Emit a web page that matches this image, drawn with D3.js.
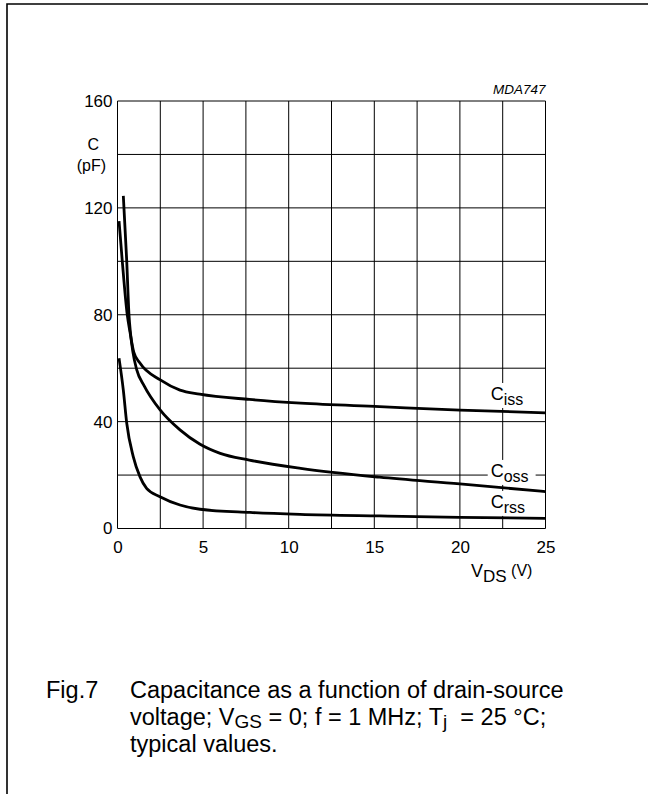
<!DOCTYPE html>
<html><head><meta charset="utf-8">
<script src="https://cdn.jsdelivr.net/npm/d3@7/dist/d3.min.js"></script>
<style>
body{margin:0;background:#fff}
svg{display:block;font-family:"Liberation Sans",Arial,Helvetica,sans-serif}
text{white-space:pre}
</style>
</head><body>
<svg id="chart" width="648" height="794"></svg>
<script>
// ---- data ----
const vdsCiss = [0.09, 0.28, 0.57, 0.73, 0.95, 1.3, 2.5, 3.65, 4.8, 7.7, 10.7, 15.3, 20, 25];
const ciss    = [115, 100, 80, 73.5, 66, 62, 55.6, 51.8, 50.3, 48.3, 46.9, 45.6, 44.3, 43.3];
const vdsCoss = [0.34, 0.54, 0.67, 0.76, 0.9, 1.12, 1.55, 2.5, 3.65, 4.8, 6.0, 7.7, 10.7, 15.3, 20, 25];
const coss    = [124.5, 100, 80, 73, 66, 59.5, 53.5, 44.3, 36.9, 31.6, 28.1, 25.6, 22.5, 19.2, 16.7, 13.8];
const vdsCrss = [0.09, 0.34, 0.54, 0.92, 1.31, 1.7, 2.48, 3.65, 4.82, 7.74, 10.66, 15.3, 20, 25];
const crss    = [63.7, 51.8, 39.4, 26.9, 19.4, 15, 11.9, 8.8, 7.2, 6.0, 5.3, 4.7, 4.2, 3.8];
const xTickValues = [0, 5, 10, 15, 20, 25];
const yTickValues = [0, 40, 80, 120, 160];
const xGridValues = [0, 2.5, 5, 7.5, 10, 12.5, 15, 17.5, 20, 22.5, 25];
const yGridValues = [0, 20, 40, 60, 80, 100, 120, 140, 160];
const seriesNames = ["iss", "oss", "rss"];

// ---- layout ----
const svg = d3.select("#chart");
const L = 117.5, R = 545.5, T = 101, B = 528.5;
const x = d3.scaleLinear().domain([0, 25]).range([L, R]);
const y = d3.scaleLinear().domain([0, 160]).range([B, T]);

// outer frame
svg.append("path")
  .attr("d", "M7,794 L7,4 L648,4")
  .attr("fill", "none").attr("stroke", "#000").attr("stroke-width", 1.6);

// grid
const g = svg.append("g");
g.selectAll("line.v").data(xGridValues).join("line")
  .attr("x1", d => x(d)).attr("x2", d => x(d)).attr("y1", T).attr("y2", B)
  .attr("stroke", "#000").attr("stroke-width", 1);
g.selectAll("line.h").data(yGridValues).join("line")
  .attr("y1", d => y(d)).attr("y2", d => y(d)).attr("x1", L).attr("x2", R)
  .attr("stroke", "#000").attr("stroke-width", 1);

// axes (labels only)
const xAxis = d3.axisBottom(x).tickValues(xTickValues).tickSize(0).tickPadding(12).tickFormat(d3.format("d"));
const yAxis = d3.axisLeft(y).tickValues(yTickValues).tickSize(0).tickPadding(5).tickFormat(d3.format("d"));
const xa = svg.append("g").attr("transform", `translate(0,${B})`).call(xAxis);
const ya = svg.append("g").attr("transform", `translate(${L},0)`).call(yAxis);
[xa, ya].forEach(a => {
  a.attr("font-size", 17).attr("font-family", "Liberation Sans, Arial, sans-serif");
  a.select(".domain").remove();
  a.selectAll("text").attr("font-size", 17).attr("fill", "#000");
});

// y title
svg.append("text").attr("x", 99).attr("y", 150).attr("text-anchor", "end")
  .attr("font-size", 16).text("C");
svg.append("text").attr("x", 106).attr("y", 171).attr("text-anchor", "end")
  .attr("font-size", 16).text("(pF)");

// x title
const xt = svg.append("text").attr("x", 471).attr("y", 577).attr("font-size", 18);
xt.append("tspan").text("V");
xt.append("tspan").attr("font-size", 17).attr("dy", 5).text("DS");
xt.append("tspan").attr("font-size", 16).attr("dy", -6).text(" (V)");

// figure code
svg.append("text").attr("x", R).attr("y", 94).attr("text-anchor", "end")
  .attr("font-size", 13.5).attr("font-style", "italic").text("MDA747");

// curve labels with white background
const labelPos = [[21.8, 48.1], [21.8, 19.3], [21.8, 7.7]];
seriesNames.forEach((s, i) => {
  const grp = svg.append("g");
  const t = grp.append("text").attr("x", x(labelPos[i][0])).attr("y", y(labelPos[i][1]))
    .attr("font-size", 18);
  t.append("tspan").text("C");
  t.append("tspan").attr("font-size", 16).attr("dy", 5).text(s);
  const bb = t.node().getBBox();
  grp.insert("rect", "text").attr("x", bb.x - 3).attr("y", bb.y - 1)
    .attr("width", bb.width + 6 + (i === 1 ? 4 : 0)).attr("height", bb.height + 1).attr("fill", "#fff");
});

// curves
const line = d3.line().x(d => x(d[0])).y(d => y(d[1])).curve(d3.curveMonotoneX);
[[vdsCiss, ciss], [vdsCoss, coss], [vdsCrss, crss]].forEach(([vx, vy]) => {
  svg.append("path").datum(vx.map((v, i) => [v, vy[i]]))
    .attr("d", line).attr("fill", "none").attr("stroke", "#000").attr("stroke-width", 2.8)
    .attr("stroke-linejoin", "round");
});

// caption
const cs = 23.5;
svg.append("text").attr("x", 46).attr("y", 698).attr("font-size", cs).text("Fig.7");
svg.append("text").attr("x", 130).attr("y", 698).attr("font-size", cs).text("Capacitance as a function of drain-source");
const l2 = svg.append("text").attr("x", 130).attr("y", 725).attr("font-size", cs);
l2.append("tspan").text("voltage; V");
l2.append("tspan").attr("font-size", 19).attr("dy", 3).text("GS");
l2.append("tspan").attr("dy", -3).text(" = 0; f = 1 MHz; T");
l2.append("tspan").attr("font-size", 19).attr("dy", 3).text("j");
l2.append("tspan").attr("dy", -3).text("  = 25 \u00B0C;");
svg.append("text").attr("x", 130).attr("y", 752).attr("font-size", cs).text("typical values.");
</script>
</body></html>
